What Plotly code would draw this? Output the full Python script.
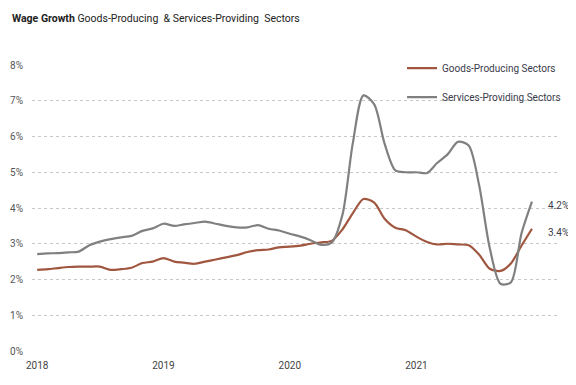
import pandas as pd
import plotly.graph_objects as go

months = pd.date_range("2018-01-01", "2021-12-01", freq="MS").strftime("%Y-%m-%d").tolist()

goods = [2.27, 2.29, 2.32, 2.35, 2.36, 2.36, 2.36, 2.27, 2.29, 2.33, 2.46, 2.50,
         2.60, 2.50, 2.47, 2.44, 2.50, 2.56, 2.62, 2.68, 2.77, 2.82, 2.84, 2.90,
         2.92, 2.95, 3.00, 3.04, 3.08, 3.40, 3.85, 4.25, 4.15, 3.70, 3.45, 3.38,
         3.20, 3.05, 2.98, 3.00, 2.98, 2.96, 2.70, 2.30, 2.24, 2.45, 2.95, 3.42]

services = [2.71, 2.73, 2.74, 2.76, 2.78, 2.96, 3.06, 3.13, 3.18, 3.22, 3.36, 3.43,
            3.56, 3.50, 3.54, 3.58, 3.62, 3.56, 3.50, 3.46, 3.46, 3.52, 3.42, 3.37,
            3.28, 3.20, 3.10, 2.97, 3.03, 3.80, 5.80, 7.15, 6.90, 5.80, 5.05, 5.00,
            5.00, 4.98, 5.25, 5.50, 5.85, 5.75, 4.65, 2.88, 1.88, 1.92, 3.30, 4.18]

series_names = ["Goods-Producing Sectors", "Services-Providing Sectors"]
end_labels = ["3.4%", "4.2%"]
tick_years = ["2018-01-01", "2019-01-01", "2020-01-01", "2021-01-01"]
tick_text = ["2018", "2019", "2020", "2021"]
y_ticks = [0, 1, 2, 3, 4, 5, 6, 7, 8]

FONT = "Roboto, Liberation Sans, sans-serif"
colors = ["#A0563F", "#808080"]

fig = go.Figure()
for name, vals, col, grp in zip(series_names, [goods, services], colors, ["g", "s"]):
    fig.add_trace(go.Scatter(
        x=months, y=vals, mode="lines", name=name, legendgroup=grp,
        line=dict(color=col, width=2.2, shape="spline", smoothing=0.8),
    ))

for vals, lab in zip([goods, services], end_labels):
    fig.add_annotation(x=months[-1], y=vals[-1], text=lab, showarrow=False,
                       xanchor="left", xshift=14, yshift=-4,
                       font=dict(family=FONT, size=10, color="#3a3a4a"))

fig.update_layout(
    width=568, height=377,
    margin=dict(l=24, r=16, t=57, b=34, autoexpand=False),
    paper_bgcolor="white", plot_bgcolor="white",
    font=dict(family=FONT, size=10, color="#555555"),
    title=dict(
        text="<b>Wage Growth</b> Goods-Producing  & Services-Providing  Sectors",
        x=0.007, xanchor="left", y=0.973, yanchor="middle",
        font=dict(family=FONT, size=10.5, color="#222222"),
    ),
    showlegend=True,
    legend=dict(x=0.7008, y=1.04, xanchor="left", yanchor="top",
                bgcolor="rgba(0,0,0,0)", tracegroupgap=10,
                font=dict(family=FONT, size=10, color="#3a3a4a")),
    xaxis=dict(
        type="date", range=["2017-12-17", "2022-02-20"],
        tickvals=tick_years, ticktext=tick_text,
        showgrid=False, showline=False, zeroline=False, ticks="",
        ticklabelstandoff=7,
        tickfont=dict(family=FONT, size=10, color="#444444"),
    ),
    yaxis=dict(
        range=[0, 8], tickvals=y_ticks, ticktext=[f"{v}%" for v in y_ticks],
        showgrid=True, gridcolor="#c8c8c8", griddash="dot", gridwidth=1,
        zeroline=False, showline=False, ticks="",
        ticklabelstandoff=8,
        tickfont=dict(family=FONT, size=10, color="#555555"),
    ),
)

fig.write_html("out.html")
